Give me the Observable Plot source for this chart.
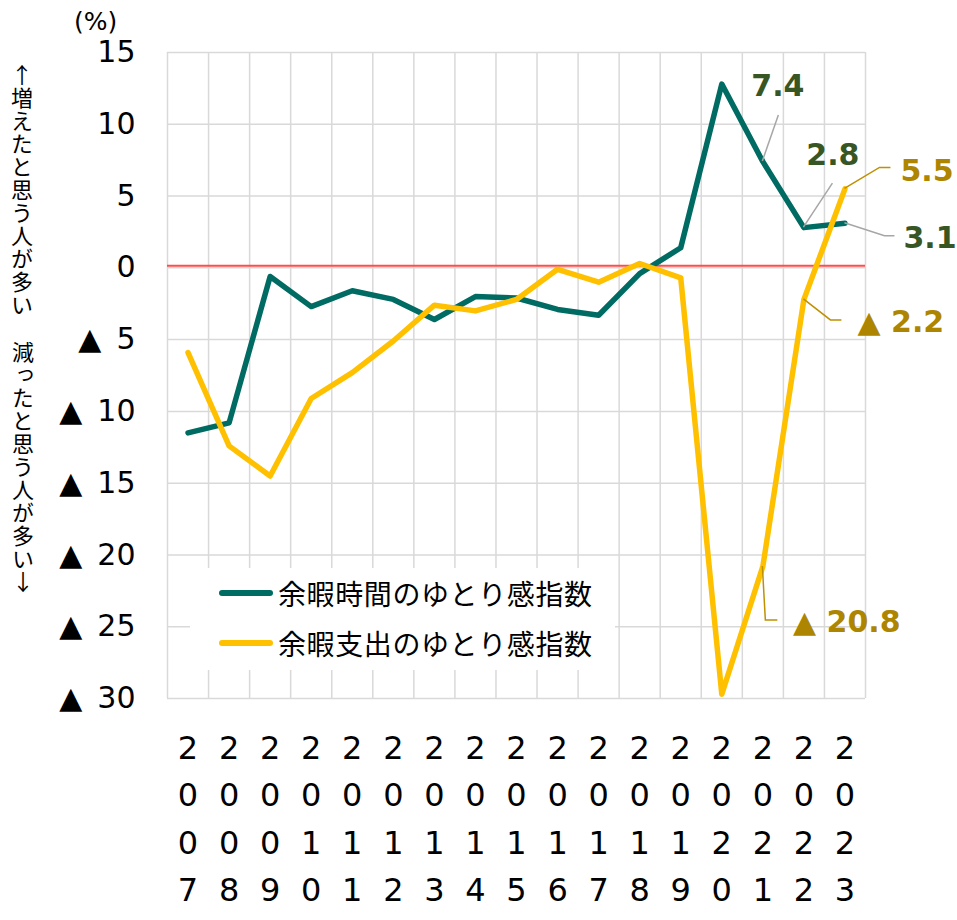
<!DOCTYPE html>
<html>
<head>
<meta charset="utf-8">
<script src="https://cdn.jsdelivr.net/npm/d3@7"></script>
<script src="https://cdn.jsdelivr.net/npm/@observablehq/plot@0.6"></script>
<style>
  body { margin: 0; background: #fff; }
  #wrap { position: relative; width: 957px; height: 920px; overflow: hidden; }
  #wrap svg { position: absolute; left: 0; top: 0; }
  .vlab { position: absolute; writing-mode: vertical-rl; text-orientation: upright;
          font-family: "Noto Sans CJK JP"; font-size: 22px; letter-spacing: 1px; line-height: 22px; color: #000; }
  .unit { position: absolute; font-family: "DejaVu Sans"; font-size: 25px; line-height: 25px; color: #000; }
  #legend { position: absolute; left: 190px; top: 568px; width: 425px; height: 102px; background: #fff; }
  .lg-row { position: absolute; left: 0; height: 40px; width: 425px; }
  .lg-sw { position: absolute; left: 29px; top: 17px; width: 54px; height: 6px; border-radius: 3px; }
  .lg-tx { position: absolute; left: 88px; top: 0; line-height: 40px; font-family: "Noto Sans CJK JP";
           font-size: 28px; letter-spacing: 0.6px; color: #000; white-space: nowrap; }
</style>
</head>
<body>
<div id="wrap"></div>
<script>
// ---- data ----
const years = [2007, 2008, 2009, 2010, 2011, 2012, 2013, 2014, 2015, 2016, 2017, 2018, 2019, 2020, 2021, 2022, 2023];
const timeIndex  = [-11.5, -10.8, -0.6, -2.7, -1.6, -2.2, -3.6, -2.0, -2.1, -2.9, -3.3, -0.4, 1.4, 12.8, 7.4, 2.8, 3.1];
const spendIndex = [-5.9, -12.4, -14.5, -9.1, -7.3, -5.1, -2.6, -3.0, -2.2, -0.1, -1.0, 0.3, -0.7, -29.7, -20.8, -2.2, 5.5];
const seriesNames = ["余暇時間のゆとり感指数", "余暇支出のゆとり感指数"];
const yTicks = [-30, -25, -20, -15, -10, -5, 0, 5, 10, 15];
const unitLabel = "(%)";
const upLabel = "↑増えたと思う人が多い";
const downLabel = "減ったと思う人が多い↓";
const annotations = [
  { series: 0, year: 2021, value: 7.4,   text: "7.4" },
  { series: 0, year: 2022, value: 2.8,   text: "2.8" },
  { series: 0, year: 2023, value: 3.1,   text: "3.1" },
  { series: 1, year: 2023, value: 5.5,   text: "5.5" },
  { series: 1, year: 2022, value: -2.2,  text: "▲ 2.2" },
  { series: 1, year: 2021, value: -20.8, text: "▲ 20.8" }
];

// ---- styles / layout ----
const lineColors  = ["#006B63", "#FFC000"];
const labelColors = ["#375623", "#AD8500"];
const leaderColors = ["#A6A6A6", "#BF9000"];
// pixel offsets of each label and its leader path (relative to the data point)
const annotationLayout = [
  { dx: 15, dy: -75, path: [[16, -46]] },
  { dx: 29, dy: -72, path: [[29, -44]] },
  { dx: 85, dy: 15,  path: [[40, 13], [50, 13]] },
  { dx: 82, dy: -17, path: [[35, -21], [46, -21]] },
  { dx: 97, dy: 23,  path: [[27, 21], [38, 21]] },
  { dx: 84, dy: 56,  path: [[3, 54], [15, 54]] }
];

const rows = years.map((year, i) => ({ year, time: timeIndex[i], spend: spendIndex[i] }));
const bounds = years.map(y => y - 0.5).concat([years[years.length - 1] + 0.5]);

const leaderMark = (index, scales) => {
  const g = d3.create("svg:g").attr("fill", "none").attr("stroke-width", 1.5);
  annotations.forEach((a, i) => {
    const px = scales.x(a.year), py = scales.y(a.value);
    const pts = [[px, py]].concat(annotationLayout[i].path.map(([dx, dy]) => [px + dx, py + dy]));
    g.append("path").attr("d", d3.line()(pts)).attr("stroke", leaderColors[a.series]);
  });
  return g.node();
};

const plot = Plot.plot({
  width: 957,
  height: 920,
  marginLeft: 167,
  marginRight: 92,
  marginTop: 52,
  marginBottom: 222,
  style: { fontFamily: "DejaVu Sans", background: "transparent", color: "#000" },
  x: { domain: [bounds[0], bounds[bounds.length - 1]] },
  y: { domain: [-30, 15] },
  marks: [
    Plot.ruleY(yTicks, { stroke: "#D9D9D9", strokeWidth: 1.5 }),
    Plot.ruleX(bounds, { stroke: "#D9D9D9", strokeWidth: 1.5 }),
    Plot.ruleY([0], { stroke: "#FF4D4D", strokeWidth: 2, dy: -2 }),
    Plot.axisY(yTicks, {
      tickSize: 0, tickPadding: 32, fontSize: 30, label: null,
      tickFormat: d => d < 0 ? "▲\u2002" + (-d) : String(d)
    }),
    Plot.axisX(years, {
      tickSize: 0, tickPadding: 27, fontSize: 32, lineHeight: 1.48, label: null,
      tickFormat: d => String(d).split("").join("\n")
    }),
    Plot.line(rows, { x: "year", y: "time", stroke: lineColors[0], strokeWidth: 5.5, strokeLinejoin: "round", strokeLinecap: "round" }),
    Plot.line(rows, { x: "year", y: "spend", stroke: lineColors[1], strokeWidth: 5.5, strokeLinejoin: "round", strokeLinecap: "round" }),
    leaderMark,
    ...annotations.map((a, i) => Plot.text([a], {
      x: "year", y: "value", text: "text",
      dx: annotationLayout[i].dx, dy: annotationLayout[i].dy,
      fill: labelColors[a.series], fontSize: 30, fontWeight: "bold", textAnchor: "middle", lineAnchor: "middle"
    }))
  ]
});

const wrap = document.getElementById("wrap");
wrap.appendChild(plot);

// side labels
const unit = document.createElement("div");
unit.className = "unit"; unit.textContent = unitLabel;
unit.style.left = "74px"; unit.style.top = "9px";
wrap.appendChild(unit);

const up = document.createElement("div");
up.className = "vlab"; up.textContent = upLabel;
up.style.left = "11px"; up.style.top = "64px";
wrap.appendChild(up);

const down = document.createElement("div");
down.className = "vlab"; down.textContent = downLabel;
down.style.left = "12px"; down.style.top = "341px";
wrap.appendChild(down);

// legend
const legend = document.createElement("div");
legend.id = "legend";
seriesNames.forEach((name, i) => {
  const row = document.createElement("div");
  row.className = "lg-row";
  row.style.top = (5 + i * 50) + "px";
  const sw = document.createElement("div");
  sw.className = "lg-sw"; sw.style.background = lineColors[i];
  const tx = document.createElement("div");
  tx.className = "lg-tx"; tx.textContent = name;
  row.appendChild(sw); row.appendChild(tx);
  legend.appendChild(row);
});
wrap.appendChild(legend);
</script>
</body>
</html>
